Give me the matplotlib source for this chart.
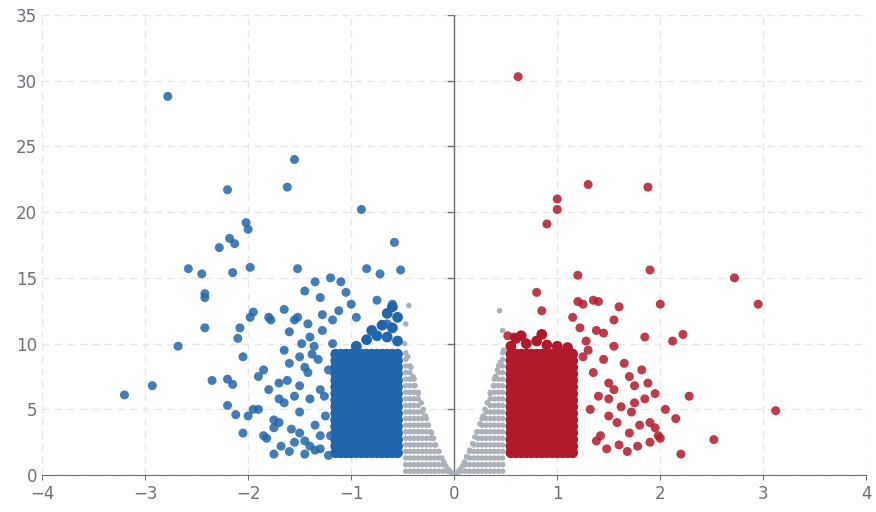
import matplotlib.pyplot as plt

# log2 fold change / -log10 p-value
down_x = [-3.2, -2.93, -2.78, -2.68, -2.58, -2.45, -2.42, -2.42, -2.42, -2.35, -2.28, -2.2, -2.18, -2.15,
          -2.13, -2.1, -2.08, -2.05, -2.02, -2.0, -1.98, -1.98, -1.95, -1.62, -1.55, -1.52, -0.9, -0.85,
          -0.58, -0.52, -0.72, -2.2, -2.15, -2.2, -2.12, -2.05, -2.0, -1.95, -1.9, -1.85, -1.8, -1.78,
          -1.82, -1.75, -1.7, -1.6, -1.65, -1.55, -1.5, -1.45, -1.35, -1.3, -1.28, -1.2, -1.1, -1.05,
          -1.0, -0.95, -0.75, -0.65, -0.6, -1.9, -1.85, -1.8, -1.75, -1.7, -1.68, -1.65, -1.6, -1.58,
          -1.55, -1.5, -1.48, -1.45, -1.42, -1.4, -1.38, -1.35, -1.32, -1.3, -1.28, -1.25, -1.6, -1.55,
          -1.5, -1.45, -1.4, -1.35, -1.3, -1.7, -1.65, -1.5, -1.45, -1.4, -1.75, -1.62, -1.52, -1.42,
          -1.36, -1.3, -1.26, -1.22, -1.18, -1.15, -1.12, -1.2, -1.15, -1.1, -1.08, -1.22, -1.18]
down_y = [6.1, 6.8, 28.8, 9.8, 15.7, 15.3, 13.8, 13.5, 11.2, 7.2, 17.3, 21.7, 18.0, 15.4,
          17.6, 10.4, 11.2, 9.0, 19.2, 18.7, 15.8, 12.0, 12.4, 21.9, 24.0, 15.7, 20.2, 15.7,
          17.7, 15.6, 15.3, 7.3, 6.9, 5.3, 4.6, 3.2, 4.5, 5.0, 7.5, 8.0, 12.0, 11.8,
          2.8, 1.6, 4.0, 10.9, 12.6, 11.8, 9.0, 14.0, 14.7, 13.5, 12.2, 15.0, 14.7, 13.9,
          13.0, 12.0, 13.3, 11.5, 13.0, 5.0, 3.0, 6.5, 4.2, 7.0, 2.2, 5.5, 8.5, 3.5,
          6.0, 4.8, 10.0, 2.6, 7.8, 5.8, 9.2, 3.8, 8.8, 6.5, 11.0, 4.5, 1.8, 2.5,
          3.2, 1.6, 2.2, 1.9, 3.0, 5.8, 9.5, 6.8, 8.2, 10.5, 3.6, 7.2, 12.0, 11.5,
          9.8, 2.0, 6.0, 8.0, 10.0, 4.0, 12.5, 3.0, 5.5, 7.5, 9.0, 1.5, 11.8]

# dense cores, given as the grid of fold-change columns and p-value rows they cover
core_down_cols = [-1.15, -1.1, -1.05, -1.0, -0.95, -0.9, -0.85, -0.8, -0.75, -0.7, -0.65, -0.6, -0.55]
core_up_cols = [0.55, 0.6, 0.65, 0.7, 0.75, 0.8, 0.85, 0.9, 0.95, 1.0, 1.05, 1.1, 1.15]
core_rows = [1.7, 2.2, 2.7, 3.2, 3.7, 4.2, 4.7, 5.2, 5.7, 6.2, 6.7, 7.2, 7.7, 8.2, 8.7, 9.2]
core_down_extra_x = [-0.95, -0.85, -0.75, -0.65, -0.55, -0.8, -0.7, -0.6, -0.55, -0.65, -0.6]
core_down_extra_y = [9.8, 10.3, 10.6, 10.5, 10.2, 11.0, 11.4, 11.2, 12.0, 12.3, 12.8]
core_up_extra_x = [0.55, 0.6, 0.7, 0.8, 0.9, 1.0, 1.1, 0.65, 0.85]
core_up_extra_y = [9.8, 10.4, 10.0, 10.2, 9.9, 9.8, 9.7, 10.6, 10.7]

up_x = [0.62, 1.3, 0.9, 1.0, 1.0, 1.88, 1.2, 1.9, 2.72, 2.95, 3.12, 2.52, 2.2, 2.28, 2.0, 2.22,
        2.12, 1.85, 1.55, 1.6, 1.4, 1.35, 1.25, 1.2, 1.15, 0.8, 0.52, 0.58, 0.85, 1.95, 2.05,
        2.15, 1.98, 1.9, 1.8, 1.75, 1.7, 1.65, 1.55, 1.45, 1.38, 1.3, 1.5, 1.82, 1.9, 1.6,
        1.7, 1.5, 1.4, 1.45, 1.35, 1.28, 1.22, 1.55, 1.62, 1.75, 1.85, 1.95, 1.68, 1.48,
        1.42, 1.32, 1.25, 1.58, 1.78, 1.88, 2.0, 1.72, 1.5, 1.38]
up_y = [30.3, 22.1, 19.1, 21.0, 20.2, 21.9, 15.2, 15.6, 15.0, 13.0, 4.9, 2.7, 1.6, 6.0, 13.0, 10.7,
        10.2, 10.5, 11.8, 12.8, 13.2, 13.3, 13.0, 13.2, 12.0, 13.9, 10.6, 10.5, 12.5, 6.2, 5.0,
        4.3, 3.0, 2.5, 3.8, 5.5, 7.5, 8.5, 9.8, 10.8, 11.0, 9.5, 7.0, 8.0, 4.0, 2.3,
        3.2, 4.5, 6.0, 8.8, 7.8, 10.2, 11.2, 6.5, 5.2, 6.8, 5.8, 3.6, 1.8, 2.0,
        3.0, 5.0, 9.0, 4.0, 2.2, 7.0, 2.8, 4.8, 5.8, 2.6]

ns_x = [-0.48, -0.45, -0.42, -0.4, -0.38, -0.35, -0.32, -0.3, -0.28, -0.25, -0.22, -0.2, -0.18,
        -0.15, -0.12, -0.1, -0.08, -0.05, -0.03, 0.03, 0.05, 0.08, 0.1, 0.12, 0.15, 0.18, 0.2,
        0.22, 0.25, 0.28, 0.3, 0.32, 0.35, 0.38, 0.4, 0.42, 0.45, 0.48,
        -0.47, -0.44, 0.44, 0.47, -0.02, 0.02, 0.0]
ns_y = [10.0, 9.0, 8.2, 7.5, 6.8, 6.2, 5.5, 5.0, 4.5, 3.8, 3.2, 2.8, 2.3,
        1.8, 1.3, 1.0, 0.7, 0.4, 0.2, 0.2, 0.4, 0.7, 1.0, 1.4, 1.9, 2.4, 2.9,
        3.3, 3.9, 4.5, 5.0, 5.5, 6.2, 6.8, 7.5, 8.0, 8.6, 9.5,
        11.5, 12.9, 12.5, 11.0, 0.1, 0.1, 0.05]
# grey fill below the V edges: columns and the rows they are filled up to
ns_cols = [-0.47, -0.43, -0.39, -0.35, -0.31, -0.27, -0.23, -0.19, -0.15, -0.11, -0.07,
           0.07, 0.11, 0.15, 0.19, 0.23, 0.27, 0.31, 0.35, 0.39, 0.43, 0.47]
ns_tops = [9.5, 8.5, 7.5, 6.3, 5.2, 4.3, 3.4, 2.5, 1.8, 1.1, 0.6,
           0.6, 1.1, 1.8, 2.5, 3.4, 4.3, 5.2, 6.3, 7.5, 8.5, 9.5]
ns_rows = [0.3, 0.8, 1.3, 1.8, 2.3, 2.8, 3.3, 3.8, 4.3, 4.8, 5.3, 5.8, 6.3, 6.8, 7.3, 7.8, 8.3, 8.8, 9.3]

fig, ax = plt.subplots(figsize=(8.76, 5.12), dpi=100)
fig.subplots_adjust(left=0.048, right=0.989, top=0.971, bottom=0.072)

fill_x = [c for c, t in zip(ns_cols, ns_tops) for r in ns_rows if r <= t]
fill_y = [r for c, t in zip(ns_cols, ns_tops) for r in ns_rows if r <= t]
ax.scatter(fill_x + ns_x, fill_y + ns_y, s=16, color="#aab1b8", edgecolors="none", zorder=2)

cdx = [c for c in core_down_cols for r in core_rows] + core_down_extra_x
cdy = [r for c in core_down_cols for r in core_rows] + core_down_extra_y
cux = [c for c in core_up_cols for r in core_rows] + core_up_extra_x
cuy = [r for c in core_up_cols for r in core_rows] + core_up_extra_y
ax.scatter(cdx, cdy, s=60, color="#2166ac", edgecolors="none", zorder=3)
ax.scatter(cux, cuy, s=60, color="#b2182b", edgecolors="none", zorder=3)
ax.scatter(down_x, down_y, s=42, color="#2166ac", alpha=0.85, edgecolors="none", zorder=4)
ax.scatter(up_x, up_y, s=42, color="#b2182b", alpha=0.85, edgecolors="none", zorder=4)

ax.set_xlim(-4, 4)
ax.set_ylim(0, 35)
ax.set_xticks(range(-4, 5))
ax.set_yticks(range(0, 36, 5))
ax.grid(True, color="#e6e6e6", linestyle=(0, (5, 4)), linewidth=1)
ax.set_axisbelow(True)

for side in ["top", "right", "left"]:
    ax.spines[side].set_visible(False)
ax.spines["bottom"].set_color("#6e7079")
ax.axvline(0, color="#6e7079", linewidth=1, zorder=1)
ax.tick_params(axis="y", length=0, labelsize=12, labelcolor="#6e7079")
ax.tick_params(axis="x", color="#6e7079", labelsize=12, labelcolor="#6e7079")
# small ticks on the centre y axis
for yv in range(5, 36, 5):
    ax.plot([-0.06, 0], [yv, yv], color="#6e7079", linewidth=1, zorder=1)

fig.savefig("out.png", dpi=100)
